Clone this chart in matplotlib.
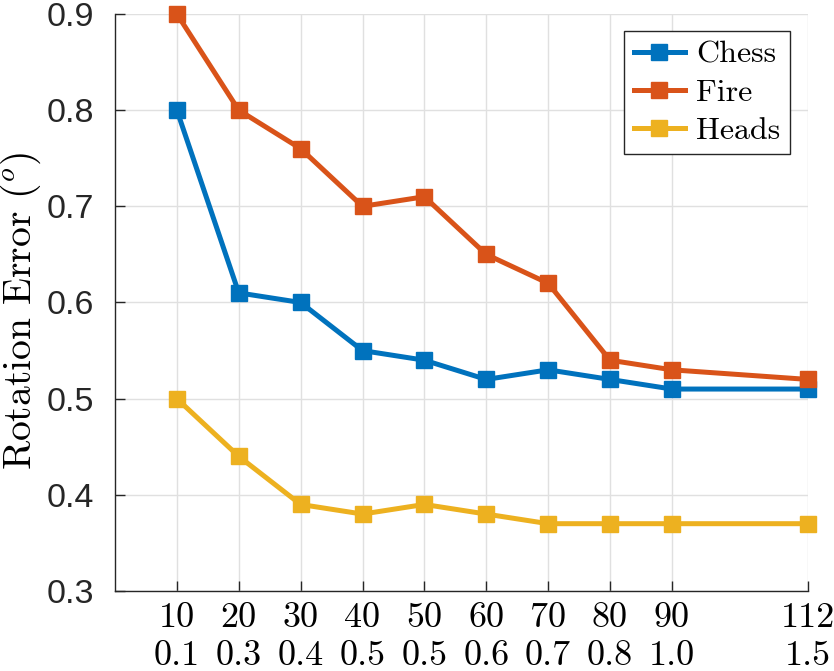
import matplotlib
matplotlib.use("Agg")
import matplotlib.pyplot as plt

plt.rcParams['mathtext.fontset'] = 'cm'

x = [10, 20, 30, 40, 50, 60, 70, 80, 90, 112]
x_labels_top = ['10', '20', '30', '40', '50', '60', '70', '80', '90', '112']
x_labels_bottom = ['0.1', '0.3', '0.4', '0.5', '0.5', '0.6', '0.7', '0.8', '1.0', '1.5']
chess = [0.80, 0.61, 0.60, 0.55, 0.54, 0.52, 0.53, 0.52, 0.51, 0.51]
fire = [0.90, 0.80, 0.76, 0.70, 0.71, 0.65, 0.62, 0.54, 0.53, 0.52]
heads = [0.50, 0.44, 0.39, 0.38, 0.39, 0.38, 0.37, 0.37, 0.37, 0.37]
yticks = [0.3, 0.4, 0.5, 0.6, 0.7, 0.8, 0.9]

colors = ['#0072BD', '#D95319', '#EDB120']

fig = plt.figure(figsize=(8.34, 6.71), dpi=100)
ax = fig.add_axes([115/834, 1-591/671, (808-115)/834, (591-14)/671])

for series, name, c in [(chess, 'Chess', colors[0]), (fire, 'Fire', colors[1]), (heads, 'Heads', colors[2])]:
    ax.plot(x, series, color=c, lw=3.6, marker='s', markersize=11, label=name, clip_on=False, zorder=3)

ax.set_xlim(0, 112)
ax.set_ylim(0.3, 0.9)
ax.set_xticks(x)
ax.set_xticklabels([f"{a}\n{b}" for a, b in zip(x_labels_top, x_labels_bottom)],
                   fontfamily='cmr10', fontsize=26, linespacing=1.25)
ax.set_yticks(yticks)
ax.set_yticklabels([f"{v:.1f}" for v in yticks], fontfamily='Liberation Sans', fontsize=24.5)

ax.tick_params(axis='x', direction='in', length=7, width=1, color='#262626', pad=8, labelcolor='black')
ax.tick_params(axis='y', direction='in', length=7, width=1, color='#262626', pad=15, labelcolor='#262626')

for s in ['top', 'right']:
    ax.spines[s].set_visible(False)
for s in ['left', 'bottom']:
    ax.spines[s].set_color('#262626')
    ax.spines[s].set_linewidth(1)

ax.grid(True, color='#e0e0e0', lw=1)
ax.set_axisbelow(True)

ax.set_ylabel(r'Rotation Error ($^o$)', fontfamily='cmr10', fontsize=28.5)
ax.yaxis.set_label_coords((43-115)/693, (591-311)/577)

leg = ax.legend(loc='upper right', bbox_to_anchor=(790/834, 1-31/671), bbox_transform=fig.transFigure,
                borderaxespad=0, prop={'family': 'cmr10', 'size': 23}, handlelength=1.6,
                handletextpad=0.35, labelspacing=0.3, borderpad=0.3, fancybox=False, framealpha=1)
leg.get_frame().set_edgecolor('#262626')
leg.get_frame().set_linewidth(1)

fig.savefig('out.png', dpi=100)
